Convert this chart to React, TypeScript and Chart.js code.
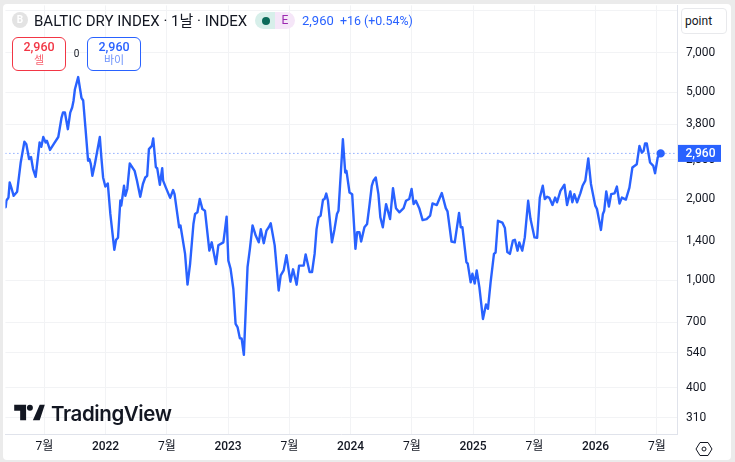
import React, { useEffect, useRef } from "react";
import { Chart, registerables } from "chart.js";

Chart.register(...registerables);

// Months counted from January 2021
const months = [2.22,2.29,2.49,2.61,2.81,3.00,3.34,3.69,4.05,4.24,4.51,4.70,4.90,5.15,5.39,5.54,5.71,5.90,6.13,6.26,6.56,6.95,7.37,7.69,7.83,8.02,8.31,8.54,8.73,8.86,9.00,9.32,9.64,9.81,10.03,10.29,10.42,10.56,10.71,10.95,11.44,11.59,11.76,11.98,12.22,12.47,12.86,13.03,13.22,13.45,13.54,13.81,13.94,14.13,14.37,14.85,15.08,15.40,15.66,15.89,16.08,16.25,16.54,16.67,16.93,17.06,17.32,17.55,17.64,17.91,18.33,18.62,18.76,19.21,19.34,19.79,20.03,20.28,20.61,20.77,21.00,21.23,21.49,21.74,22.17,22.40,22.82,23.05,23.54,23.69,23.86,24.03,24.25,24.52,24.74,24.94,25.16,25.33,25.55,25.72,25.91,26.14,26.40,26.72,27.01,27.21,27.50,27.76,27.99,28.18,28.57,28.96,29.16,29.45,29.72,30.11,30.37,30.72,30.96,31.41,31.60,31.99,32.23,32.48,32.67,32.87,33.07,33.30,33.45,33.62,33.79,34.18,34.43,34.67,34.82,35.25,35.48,35.60,35.90,36.16,36.48,36.65,36.87,37.04,37.36,37.62,37.85,38.08,38.24,38.47,38.73,38.92,39.16,39.48,39.87,40.16,40.45,40.78,41.20,41.43,41.75,41.98,42.18,42.40,42.73,43.06,43.45,43.80,44.03,44.45,44.94,45.33,45.50,45.89,46.21,46.63,46.80,46.96,47.35,47.48,47.77,47.94,48.16,48.36,48.62,48.97,49.27,49.46,49.72,50.05,50.21,50.44,50.87,51.12,51.36,51.61,51.90,52.10,52.36,52.53,52.82,53.07,53.40,53.63,54.02,54.28,54.54,54.83,55.03,55.26,55.48,55.78,56.04,56.23,56.56,56.95,57.21,57.53,57.73,57.92,58.19,58.51,58.73,59.00,59.29,59.55,59.97,60.14,60.53,60.72,60.85,61.05,61.31,61.53,61.86,62.09,62.35,62.58,62.97,63.32,63.61,64.04,64.30,64.53,64.71,64.85,65.02,65.34,65.66,65.83,66.09,66.38];
const values = [1870,1980,2030,2310,2185,2060,2135,2740,3270,3200,2820,2870,2590,2425,2900,3250,3130,3405,3250,3295,3050,3220,3405,4020,4195,4195,3640,4195,4380,4630,5120,5680,4760,4650,3690,2780,2820,2700,2445,2700,3405,2860,2410,2230,2290,1765,1300,1415,1440,1980,1895,2245,2060,2185,2715,2550,2345,2045,2280,2410,2445,3070,3155,3365,2630,2610,2265,2610,2345,2210,2025,2165,2090,1575,1600,1255,965,1150,1620,1765,1790,2005,1840,1815,1290,1385,1150,1350,1385,1530,1725,1185,1105,930,690,670,610,610,530,755,1120,1310,1600,1465,1385,1550,1375,1530,1575,1630,1350,918,1045,1090,1240,990,1100,965,1135,1135,1250,1075,1075,1255,1550,1715,1740,1990,2005,2100,1975,1385,1550,1765,1815,3340,2515,2550,2120,2090,1310,1510,1510,1395,1575,1620,1895,2245,2345,2410,2090,1715,1575,1920,1690,2200,1855,1790,1855,1975,2005,2185,1920,1975,1855,1675,1690,1740,1930,1905,2110,1855,1805,1395,1385,1780,1575,1575,1170,1155,985,1060,975,1090,945,720,815,785,985,1255,1270,1665,1640,1565,1275,1255,1405,1415,1290,1385,1290,1445,1975,1690,1445,1440,2025,2245,2005,2045,2025,1905,2030,1950,2150,2265,1905,2140,1950,2090,1950,2105,2245,2345,2835,2280,1895,1840,1540,1765,1815,2140,1880,2090,2105,2230,1930,2030,1995,2210,2625,2700,3155,2980,3025,3220,3220,2740,2660,2500,2860,2960];

const lastPrice = 2960;
const yTicks = [310, 400, 540, 700, 1000, 1400, 2000, 2800, 3800, 5000, 7000, 10000];
const yHiddenLabels = [10000];
const xTickMonths = [6, 12, 18, 24, 30, 36, 42, 48, 54, 60, 66];
const xTickLabels = ["7월", "2022", "7월", "2023", "7월", "2024", "7월", "2025", "7월", "2026", "7월"];
const xRange = [2.19, 67.98];
const yRange = [269.6, 10475];

const BLUE = "#2962ff";
const RED = "#f23645";
const INK = "#131722";
const GRID = "#f2f3f5";
const FONT = 'Roboto, "Noto Sans CJK KR", sans-serif';

const lastPriceTag = {
  id: "lastPriceTag",
  afterDraw(chart: any) {
    const { ctx, scales } = chart;
    const y = scales.y.getPixelForValue(lastPrice);
    ctx.save();
    ctx.fillStyle = BLUE;
    ctx.fillRect(678, y - 8.5, 43, 17);
    ctx.fillStyle = "#ffffff";
    ctx.font = `500 12px ${FONT}`;
    ctx.textAlign = "center";
    ctx.textBaseline = "middle";
    ctx.fillText(lastPrice.toLocaleString("en-US"), 700.5, y + 0.5);
    ctx.restore();
  },
};

function abs(style: React.CSSProperties): React.CSSProperties {
  return { position: "absolute", whiteSpace: "nowrap", ...style };
}

function TradeBox({ left, color, sub, subColor }: { left: number; color: string; sub: string; subColor: string }) {
  return (
    <div
      style={abs({
        left,
        top: 37,
        width: 54,
        height: 34,
        boxSizing: "border-box",
        border: `1px solid ${color}`,
        borderRadius: 6,
        background: "#fff",
        textAlign: "center",
        fontFamily: FONT,
      })}
    >
      <div style={{ fontSize: 12.5, lineHeight: "15px", marginTop: 1, color, fontWeight: 500 }}>2,960</div>
      <div style={{ fontSize: 11, lineHeight: "13px", color: subColor }}>{sub}</div>
    </div>
  );
}

export default function App() {
  const ref = useRef<HTMLCanvasElement | null>(null);

  useEffect(() => {
    document.body.style.margin = "0";
    const chart = new Chart(ref.current as HTMLCanvasElement, {
      type: "line",
      data: {
        datasets: [
          {
            data: months.map((m, i) => ({ x: m, y: values[i] })),
            borderColor: BLUE,
            backgroundColor: BLUE,
            borderWidth: 2.4,
            borderJoinStyle: "round",
            borderCapStyle: "round",
            tension: 0,
            pointRadius: (c: any) => (c.dataIndex === months.length - 1 ? 3 : 0),
            pointHoverRadius: 0,
            order: 1,
          },
          {
            data: [
              { x: xRange[0], y: lastPrice },
              { x: xRange[1], y: lastPrice },
            ],
            borderColor: "rgba(41,98,255,0.8)",
            borderWidth: 1,
            borderDash: [1, 3],
            pointRadius: 0,
            order: 2,
          },
        ],
      },
      options: {
        responsive: false,
        animation: false,
        layout: { padding: { left: 3, top: 4, right: 4, bottom: 2 } },
        plugins: { legend: { display: false }, tooltip: { enabled: false } },
        scales: {
          x: {
            type: "linear",
            min: xRange[0],
            max: xRange[1],
            bounds: "data",
            afterBuildTicks: (s: any) => {
              s.ticks = xTickMonths.map((value) => ({ value }));
            },
            afterFit: (s: any) => {
              s.height = 26;
              s.paddingLeft = 0;
              s.paddingRight = 0;
            },
            grid: { color: GRID, lineWidth: 1, drawTicks: false },
            border: { color: "#e0e3eb", width: 1 },
            ticks: {
              autoSkip: false,
              maxRotation: 0,
              padding: 6,
              color: INK,
              font: (c: any) => ({
                family: FONT,
                size: 12,
                weight: c.tick && xTickLabels[xTickMonths.indexOf(c.tick.value)] !== "7월" ? "500" : "400",
              }),
              callback: (v: any) => xTickLabels[xTickMonths.indexOf(v)] ?? "",
            },
          },
          y: {
            type: "logarithmic",
            position: "right",
            min: yRange[0],
            max: yRange[1],
            bounds: "data",
            afterBuildTicks: (s: any) => {
              s.ticks = yTicks.map((value) => ({ value }));
            },
            afterFit: (s: any) => {
              s.width = 54;
              s.paddingTop = 0;
              s.paddingBottom = 0;
            },
            grid: { color: GRID, lineWidth: 1, drawTicks: false },
            border: { color: "#e0e3eb", width: 1 },
            ticks: {
              autoSkip: false,
              padding: 9,
              color: INK,
              font: { family: FONT, size: 12 },
              callback: (v: any) => (yHiddenLabels.includes(Number(v)) ? "" : Number(v).toLocaleString("en-US")),
            },
          },
        },
      },
      plugins: [lastPriceTag],
    } as any);
    return () => chart.destroy();
  }, []);

  return (
    <div style={{ position: "fixed", left: 0, top: 0, width: 735, height: 462, background: "#ebebeb", overflow: "hidden" }}>
      <div style={abs({ left: 3, top: 4, width: 728, height: 456, background: "#fff", borderRadius: 4 })} />
      <canvas ref={ref} width={735} height={462} style={{ position: "absolute", left: 0, top: 0, display: "block" }} />

      <div style={abs({ left: 12, top: 12, width: 16, height: 16, borderRadius: 8, background: "#e3e3e3", color: "#fff", fontFamily: FONT, fontSize: 10, fontWeight: 700, lineHeight: "16px", textAlign: "center" })}>B</div>
      <div style={abs({ left: 34, top: 12, fontFamily: FONT, fontSize: 15, lineHeight: "18px", color: INK })}>BALTIC DRY INDEX · 1날 · INDEX</div>

      <div style={abs({ left: 255, top: 12, width: 20, height: 17, background: "#d7efea", borderRadius: "9px 0 0 9px" })} />
      <div style={abs({ left: 275, top: 12, width: 20, height: 17, background: "#f5e6f8", borderRadius: "0 9px 9px 0" })} />
      <div style={abs({ left: 262, top: 17, width: 8, height: 8, borderRadius: 4, background: "#0b6b5a" })} />
      <div style={abs({ left: 280, top: 12, width: 10, textAlign: "center", fontFamily: FONT, fontSize: 12, lineHeight: "17px", color: "#9c27b0" })}>E</div>

      <div style={abs({ left: 302, top: 12, fontFamily: FONT, fontSize: 13, lineHeight: "18px", color: BLUE })}>2,960</div>
      <div style={abs({ left: 340, top: 12, fontFamily: FONT, fontSize: 12.4, lineHeight: "18px", color: BLUE })}>+16 (+0.54%)</div>

      <TradeBox left={12} color={RED} sub="셀" subColor="#f7616e" />
      <div style={abs({ left: 66, top: 47, width: 21, textAlign: "center", fontFamily: FONT, fontSize: 10, lineHeight: "13px", color: INK })}>0</div>
      <TradeBox left={87} color={BLUE} sub="바이" subColor="#6f94fb" />

      <div style={abs({ left: 681, top: 8, width: 46, height: 26, boxSizing: "border-box", border: "1px solid #e8e9ec", borderRadius: 4, background: "#fff", fontFamily: FONT, fontSize: 12, lineHeight: "24px", paddingLeft: 3, color: INK })}>point</div>

      <svg style={abs({ left: 14, top: 404 })} width="31" height="17" viewBox="0 0 36 20">
        <path fill={INK} d="M14 1H0v7h7v11h7V1zm16 18h-8L30 1h6l-6 18zM18.5 8a3.5 3.5 0 1 0 0-7 3.5 3.5 0 0 0 0 7z" />
      </svg>
      <div style={abs({ left: 51, top: 400, fontFamily: "Inter, Roboto, sans-serif", fontSize: 20.5, fontWeight: 600, letterSpacing: -0.4, lineHeight: "27px", color: INK })}>TradingView</div>

      <svg style={abs({ left: 695, top: 441 })} width="18" height="16" viewBox="0 0 18 16">
        <path fill="none" stroke={INK} strokeWidth="1" d="M5 1.5h8L17 8l-4 6.5H5L1 8z" />
        <circle cx="9" cy="8" r="2" fill="none" stroke={INK} strokeWidth="1" />
      </svg>
    </div>
  );
}
